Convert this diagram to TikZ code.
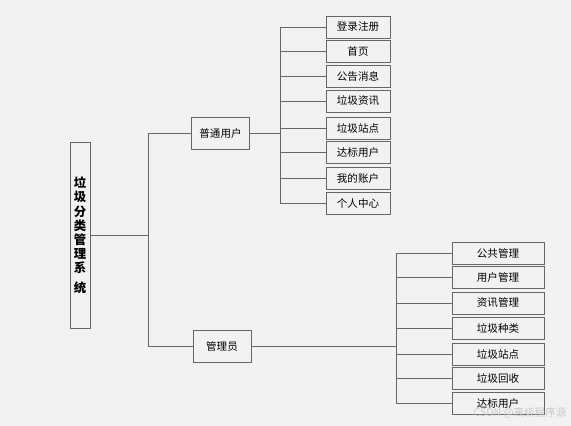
\documentclass[tikz,border=0pt]{standalone}
\usepackage{fontspec}
\setmainfont{Noto Sans CJK SC}
\usepackage{tikz}
\usetikzlibrary{positioning,calc}
\definecolor{bgray}{HTML}{F2F2F2}
\definecolor{lgray}{HTML}{666666}
\definecolor{wmark}{HTML}{C8C8C8}

\begin{document}
\begin{tikzpicture}[x=0.025cm, y=-0.025cm,
    box/.style={draw=lgray, line width=0.65pt, fill=bgray, inner sep=1pt, font=\fontsize{7.5}{9}\selectfont},
    leaf/.style={box, minimum width=1.6cm, minimum height=0.55cm},
    adminleaf/.style={box, minimum width=2.3cm, minimum height=0.55cm},
    role/.style={box, minimum width=1.43cm, minimum height=0.78cm},
    link/.style={draw=lgray, line width=0.6pt}
]
    % canvas
    \fill[bgray] (0,0) rectangle (571,426);
    \useasboundingbox (0,0) rectangle (571,426);

    % root and the two roles
    \node[box, minimum width=0.5cm, minimum height=4.63cm, align=center,
          font=\fontsize{8.8}{10.1}\selectfont\bfseries] (root) at (80,235.5)
        {垃\\圾\\分\\类\\管\\理\\系\\[4pt]统};
    \node[role] (user) at (220.5,133.5) {普通用户};
    \node[role, minimum width=1.45cm, minimum height=0.8cm] (admin) at (222,346) {管理员};

    % leaves of the user
    \foreach \name/\ypos [count=\i] in {登录注册/27, 首页/51, 公告消息/76, 垃圾资讯/101,
                                         垃圾站点/128, 达标用户/152.5, 我的账户/178, 个人中心/203}
        \node[leaf] (u\i) at (358,\ypos) {\name};

    % leaves of the admin
    \foreach \name/\ypos [count=\i] in {公共管理/253, 用户管理/277, 资讯管理/303, 垃圾种类/328,
                                         垃圾站点/354, 垃圾回收/378.5, 达标用户/403.5}
        \node[adminleaf] (a\i) at (498,\ypos) {\name};

    % trunks
    \coordinate (rtrunk) at (148,0);
    \coordinate (utrunk) at (280,0);
    \coordinate (atrunk) at (396,0);

    % root to roles
    \draw[link] (root.east) -- (rtrunk |- root.east);
    \draw[link] (rtrunk |- user.west) -- (rtrunk |- admin.west);
    \draw[link] (rtrunk |- user.west) -- (user.west);
    \draw[link] (rtrunk |- admin.west) -- (admin.west);

    % user to leaves
    \draw[link] (user.east) -- (utrunk |- user.east);
    \draw[link] (utrunk |- u1.west) -- (utrunk |- u8.west);
    \foreach \i in {1,...,8}
        \draw[link] (utrunk |- u\i.west) -- (u\i.west);

    % admin to leaves
    \draw[link] (admin.east) -- (atrunk |- admin.east);
    \draw[link] (atrunk |- a1.west) -- (atrunk |- a7.west);
    \foreach \i in {1,...,7}
        \draw[link] (atrunk |- a\i.west) -- (a\i.west);

    % watermark
    \node[text=wmark, font=\fontsize{7.5}{9}\selectfont, inner sep=0pt] (mark) at (520,413) {CSDN @高级程序源};
\end{tikzpicture}
\end{document}
